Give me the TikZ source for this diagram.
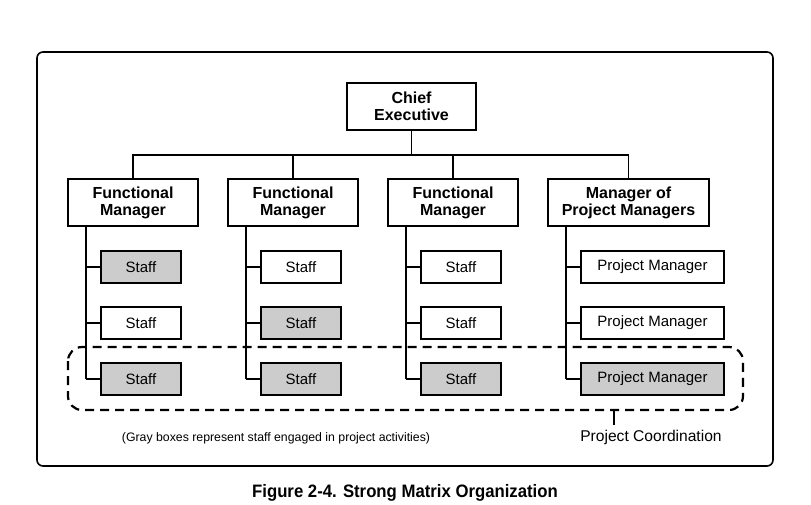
\documentclass[tikz,border=0pt]{standalone}
\usepackage{fontspec}
\setmainfont{Liberation Sans}
\begin{document}
\begin{tikzpicture}[x=1pt,y=-1pt,
  mgr/.style={draw,line width=1.3pt,minimum height=47pt,align=center,font=\fontsize{16}{17}\selectfont\bfseries,inner sep=1pt},
  stf/.style={draw,line width=1.3pt,minimum height=32pt,minimum width=80pt,font=\fontsize{15}{16}\selectfont,inner sep=1pt},
  gry/.style={stf,fill=black!20},
  ln/.style={line width=1.2pt}]
\useasboundingbox (0,0) rectangle (811,504);
\draw[line width=1.6pt,rounded corners=6pt] (37,52) rectangle (773,466);
\node[mgr,minimum width=129pt] (ce) at (411.5,106.5) {Chief\\Executive};
\node[mgr,minimum width=130pt] (f1) at (133,202.5) {Functional\\Manager};
\node[mgr,minimum width=130pt] (f2) at (293,202.5) {Functional\\Manager};
\node[mgr,minimum width=130pt] (f3) at (453,202.5) {Functional\\Manager};
\node[mgr,minimum width=161pt] (f4) at (628.5,202.5) {Manager of\\Project Managers};
\coordinate (h) at (411.5,155);
\draw[ln] (ce.south) -- (h);
\draw[ln] (f1.north) |- (h) -| (f4.north);
\draw[ln] (f2.north) -- (f2.north|-h);
\draw[ln] (f3.north) -- (f3.north|-h);
\node[gry] (a1) at (141,267) {Staff};
\node[stf] (a2) at (141,323) {Staff};
\node[gry] (a3) at (141,379) {Staff};
\node[stf] (b1) at (301,267) {Staff};
\node[gry] (b2) at (301,323) {Staff};
\node[gry] (b3) at (301,379) {Staff};
\node[stf] (c1) at (461,267) {Staff};
\node[stf] (c2) at (461,323) {Staff};
\node[gry] (c3) at (461,379) {Staff};
\node[stf,minimum width=143pt] (d1) at (652.5,267) {Project Manager};
\node[stf,minimum width=143pt] (d2) at (652.5,323) {Project Manager};
\node[gry,minimum width=143pt] (d3) at (652.5,379) {Project Manager};
\foreach \t/\x in {f1/86,f2/246,f3/406,f4/566}{
  \draw[ln] (\x,226) -- (\x,379);}
\foreach \n/\x in {a/86,b/246,c/406,d/566}{
  \foreach \i in {1,2,3}{\draw[ln] (\x,0|-\n\i.west) -- (\n\i.west);}}
\draw[line width=2.2pt,dash pattern=on 9pt off 6pt,rounded corners=14pt] (68,347) rectangle (743,410);
\coordinate (pc) at (614,410);
\draw[ln] (pc) -- (614,425);
\node[font=\fontsize{12.3}{14}\selectfont] (gt) at (276,438) {(Gray boxes represent staff engaged in project activities)};
\node[font=\fontsize{15.6}{17}\selectfont] (pct) at (651,437) {Project Coordination};
\node[font=\fontsize{18}{20}\selectfont\bfseries,xscale=0.93] (cap) at (405,493) {Figure 2-4. Strong Matrix Organization};
\end{tikzpicture}
\end{document}
